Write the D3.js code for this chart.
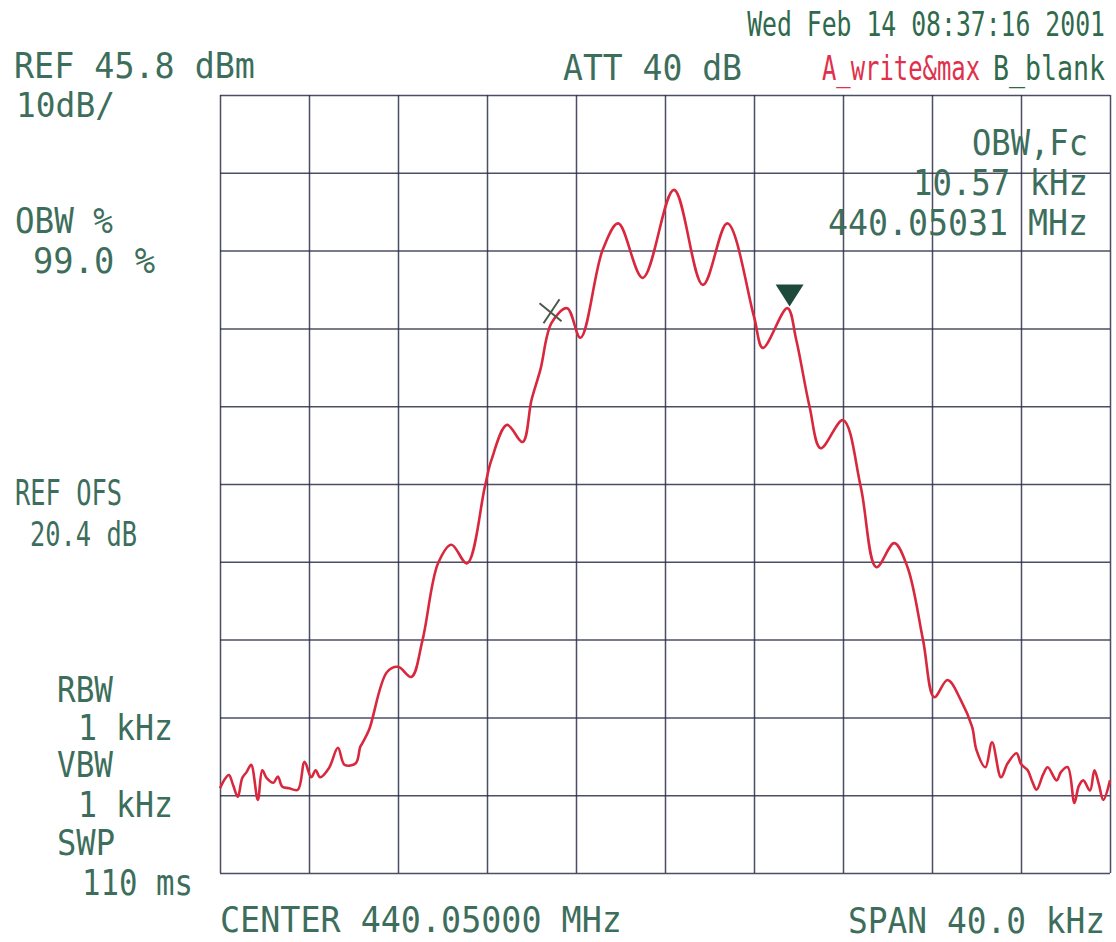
<!DOCTYPE html>
<html>
<head>
<meta charset="utf-8">
<script src="https://cdn.jsdelivr.net/npm/d3@7"></script>
<style>
    html, body { margin: 0; padding: 0; background: #fff; }
    svg { display: block; }
    text { font-family: "DejaVu Sans Mono", monospace; }
</style>
</head>
<body>
<div id="chart"></div>
<script>
'use strict';

// Spectrum analyser settings
var refLevel   = 45.8,   // dBm, top line
    dbPerDiv   = 10,
    divisions  = 10,
    spanKHz    = 40;

// Trace: offset from centre frequency (kHz) and level (dBm)
var traceFreq = [
    -20.0, -19.8, -19.6, -19.4, -19.2, -19.0, -18.8, -18.6, -18.3, -18.1, -17.9,
    -17.6, -17.4, -17.2, -16.9, -16.5, -16.2, -15.9, -15.7, -15.5, -15.1, -14.7,
    -14.4, -13.9, -13.7, -13.6, -13.3,
    -12.5, -12.0, -11.4, -10.9, -10.2, -9.6, -8.9, -8.1, -7.8, -7.1, -6.4,
    -6.0, -5.6, -5.1, -4.4, -3.8, -2.8, -2.1, -1.0, 0.4, 1.7, 2.8, 4.0, 4.4,
    5.5, 5.9, 6.5, 7.0, 8.0, 8.8, 9.5, 10.3, 10.9, 11.6, 12.1, 12.7, 13.3,
    13.8, 14.0, 14.4, 14.7, 15.1, 15.4, 15.8, 16.0, 16.3, 16.5, 16.7, 17.0, 17.2,
    17.6, 17.8, 18.1, 18.4, 18.6, 18.8, 19.1, 19.3, 19.5, 19.7, 20.0
];
var traceDbm = [
    -43.3, -42.2, -41.6, -43.0, -44.4, -42.0, -41.2, -40.3, -44.8, -41.0, -42.0,
    -42.6, -41.8, -43.1, -43.3, -43.5, -39.9, -41.9, -41.0, -41.9, -40.7, -38.1,
    -40.3, -40.1, -38.0, -37.5, -35.8,
    -28.4, -27.7, -29.0, -24.3, -14.4, -12.0, -14.4, -4.6, -1.1, 3.4, 1.2,
    6.6, 10.5, 16.5, 18.4, 14.6, 25.9, 29.3, 22.3, 33.6, 21.4, 29.3, 17.3, 13.3,
    18.4, 14.3, 5.7, 0.4, 4.0, -4.6, -14.9, -11.8, -14.9, -24.3, -31.6, -29.4, -32.0,
    -35.4, -38.4, -40.6, -37.4, -41.9, -40.1, -38.8, -40.2, -41.0, -42.4, -43.5, -41.5, -40.6,
    -42.3, -41.2, -40.6, -45.2, -43.0, -42.3, -43.6, -41.0, -42.8, -44.8, -42.3
];

// Markers (kHz, dBm)
var crossMarker = [-5.1, 18.0];
var deltaMarker = [5.6, 18.6];

// Annotation texts
var headerLeft   = ['REF 45.8 dBm', '10dB/'];
var headerMid    = 'ATT 40 dB';
var headerDate   = 'Wed Feb 14 08:37:16 2001';
var traceModes   = ['A_write&max', 'B_blank'];
var obwResult    = ['OBW,Fc', '10.57 kHz', '440.05031 MHz'];
var sideLabels   = ['OBW %', '99.0 %', 'REF OFS', '20.4 dB'];
var bwLabels     = ['RBW', '1 kHz', 'VBW', '1 kHz', 'SWP', '110 ms'];
var footer       = ['CENTER 440.05000 MHz', 'SPAN 40.0 kHz'];

var W = 1116, H = 942,
    margin = {top: 95, right: 6, bottom: 69, left: 220},
    iw = W - margin.left - margin.right,
    ih = H - margin.top - margin.bottom;

var textColor = '#3d6e5c',
    gridColor = '#2c2f4a',
    traceColor = '#d8283e';

var svg = d3.select('#chart').append('svg')
    .attr('width', W)
    .attr('height', H);

var x = d3.scaleLinear().domain([-spanKHz / 2, spanKHz / 2]).range([0, iw]);
var y = d3.scaleLinear()
    .domain([refLevel - dbPerDiv * divisions, refLevel])
    .range([ih, 0]);

var g = svg.append('g')
    .attr('transform', 'translate(' + margin.left + ',' + margin.top + ')');

var xTicks = d3.range(divisions + 1).map(function (i) { return -spanKHz / 2 + i * spanKHz / divisions; });
var yTicks = d3.range(divisions + 1).map(function (i) { return refLevel - i * dbPerDiv; });

// grid, drawn through axes with full-length ticks
g.append('g')
    .attr('class', 'grid-x')
    .attr('transform', 'translate(0,' + ih + ')')
    .call(d3.axisBottom(x).tickValues(xTicks).tickSize(ih).tickSizeOuter(0).tickFormat(''))
    .call(function (a) {
        a.select('.domain').remove();
        a.selectAll('line').attr('transform', 'translate(0,' + (-ih) + ')');
    });

g.append('g')
    .attr('class', 'grid-y')
    .call(d3.axisLeft(y).tickValues(yTicks).tickSize(-iw).tickSizeOuter(0).tickFormat(''))
    .call(function (a) { a.select('.domain').remove(); });

g.selectAll('.grid-x line, .grid-y line')
    .attr('stroke', gridColor)
    .attr('stroke-width', 1.5)
    .attr('stroke-opacity', 0.85);

// trace
var line = d3.line()
    .x(function (d) { return x(d[0]); })
    .y(function (d) { return y(d[1]); })
    .curve(d3.curveCatmullRom.alpha(0.5));

var trace = traceFreq.map(function (f, i) { return [f, traceDbm[i]]; });

g.append('path')
    .datum(trace)
    .attr('d', line)
    .attr('fill', 'none')
    .attr('stroke', traceColor)
    .attr('stroke-width', 2.6)
    .attr('stroke-linejoin', 'round');

// markers
var cx = x(crossMarker[0]), cy = y(crossMarker[1]);
g.append('path')
    .attr('d', 'M' + (cx - 12) + ',' + (cy - 8) + 'L' + (cx + 10) + ',' + (cy + 10) +
               'M' + (cx - 8) + ',' + (cy + 12) + 'L' + (cx + 8) + ',' + (cy - 12))
    .attr('stroke', '#4a5a4a')
    .attr('stroke-width', 2)
    .attr('fill', 'none');

var tx = x(deltaMarker[0]), ty = y(deltaMarker[1]);
g.append('path')
    .attr('d', 'M' + (tx - 14) + ',' + (ty - 22) + 'L' + (tx + 14) + ',' + (ty - 22) + 'L' + tx + ',' + ty + 'Z')
    .attr('fill', '#1e4a3c');

// Plotter-style text: font size chosen so the monospace run fills `width`,
// then stretched vertically to the wanted cap height.
function label(s, px, py, width, anchor, cap, color) {
    var size = width / (s.length * 0.602),
        sy   = (cap || 26) / (0.729 * size);

    svg.append('text')
        .attr('transform', 'translate(' + px + ',' + py + ') scale(1,' + sy.toFixed(3) + ')')
        .attr('text-anchor', anchor || 'start')
        .style('font-size', size.toFixed(2) + 'px')
        .style('fill', color || textColor)
        .text(s);
}

label(headerLeft[0], 14, 78, 241);
label(headerLeft[1], 16, 117, 99, 'start', 24);
label(headerMid, 563, 80, 179);
label(headerDate, 1105, 36, 358, 'end', 24, '#2f6a4c');
label(traceModes[0], 822, 80, 158, 'start', 24, '#e0304c');
label(traceModes[1], 1105, 80, 112, 'end', 24, '#2f6a4c');

label(obwResult[0], 1088, 155, 116, 'end');
label(obwResult[1], 1088, 195, 175, 'end');
label(obwResult[2], 1088, 235, 260, 'end');

label(sideLabels[0], 15, 233, 98);
label(sideLabels[1], 33, 273, 122);
label(sideLabels[2], 15, 505, 107);
label(sideLabels[3], 30, 546, 107, 'start', 25);

label(bwLabels[0], 57, 702, 56);
label(bwLabels[1], 78, 740, 95);
label(bwLabels[2], 57, 777, 56);
label(bwLabels[3], 78, 817, 95);
label(bwLabels[4], 57, 855, 58);
label(bwLabels[5], 82, 895, 111);

label(footer[0], 220, 932, 402);
label(footer[1], 1105, 933, 257, 'end');
</script>
</body>
</html>
